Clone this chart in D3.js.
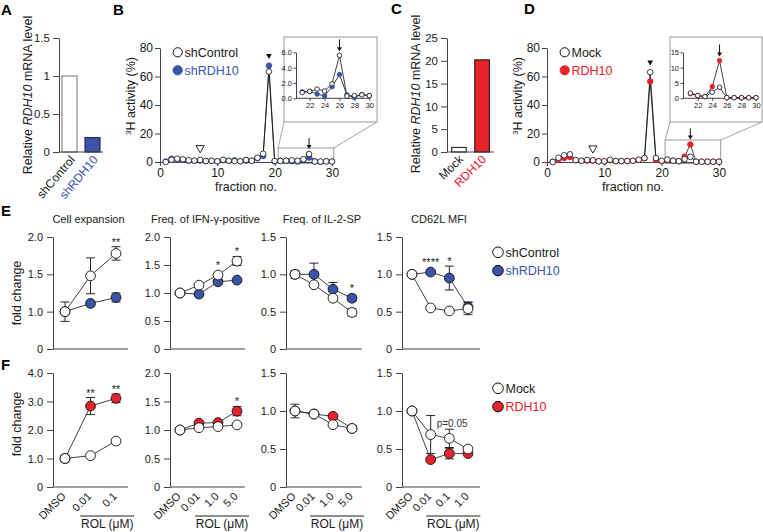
<!DOCTYPE html>
<html><head><meta charset="utf-8">
<script src="https://cdn.jsdelivr.net/npm/d3@7"></script>
<style>
body{margin:0;background:#fff;}
svg{display:block;}
</style></head><body>
<svg id="c" width="763" height="532"></svg>
<script>
// ---------------- DATA ----------------
const aCategories = ["shControl", "shRDH10"];
const aValues = [1.0, 0.19];
const aTicks = [0, 0.5, 1, 1.5];

const cCategories = ["Mock", "RDH10"];
const cValues = [1.0, 20.2];
const cTicks = [0, 5, 10, 15, 20, 25];

const fractions = [1,2,3,4,5,6,7,8,9,10,11,12,13,14,15,16,17,18,19,20,21,22,23,24,25,26,27,28,29,30];
const bControl = [0, 1.6, 2.3, 1.9, 1.2, 1.0, 1.4, 0.7, 0.9, 0.5, 1.6, 0.9, 0.7, 0.5, 1.4, 0.9, 3.0, 5.8, 63.4, 0.7, 0.75, 0.9, 1.2, 0.95, 1.9, 5.6, 0.3, 0.35, 0.45, 0.35];
const bRDH10   = [0.3, 2.3, 1.5, 1.5, 1.0, 0.8, 1.0, 0.6, 0.8, 0.4, 1.2, 0.8, 1.2, 0.5, 1.0, 0.8, 2.6, 4.2, 67.6, 0.4, 0.85, 0.9, 0.55, 0.3, 1.5, 3.1, 0.45, 0.1, 0.5, 0.35];
const dMock    = [0, 3.0, 4.7, 5.4, 1.4, 0.9, 1.4, 1.2, 0.5, 0.5, 1.6, 0.7, 0.7, 0.7, 0.9, 1.6, 2.8, 63.0, 2.8, 0.9, 1.7, 0.9, 0.55, 2.0, 3.6, 0.2, 0.2, 0.2, 0.2, 0.2];
const dRDH10   = [0.2, 1.9, 2.8, 3.5, 1.2, 0.8, 1.0, 1.0, 0.5, 0.4, 1.2, 0.6, 0.6, 0.6, 0.8, 1.4, 2.6, 56.5, 1.5, 0.5, 1.5, 0.9, 0.5, 3.8, 12.3, 0.2, 0.2, 0.2, 0.2, 0.2];
const fracXTicks = [0, 10, 20, 30];
const fracYTicks = [0, 20, 40, 60, 80];
const insetXTicks = [22, 24, 26, 28, 30];
const bInsetYTicks = [0, 2, 4, 6];
const dInsetYTicks = [0, 5, 10, 15];
// markers: [open triangle fraction, filled triangle fraction, arrow fraction]
const bMarks = [7, 19, 26];
const dMarks = [8, 18, 25];

const eTitles = ["Cell expansion", "Freq. of IFN-\u03b3-positive", "Freq. of IL-2-SP", "CD62L MFI"];
const dose3 = ["DMSO", "0.01", "0.1"];
const dose4a = ["DMSO", "0.01", "1.0", "5.0"];
const dose4b = ["DMSO", "0.01", "0.1", "1.0"];

// Row E: shControl vs shRDH10
const e1Ctrl = [1.0, 1.48, 1.78], e1CtrlErr = [0.13, 0.24, 0.09];
const e1Sh   = [1.0, 1.11, 1.19], e1ShErr   = [0, 0.03, 0.06];
const e2Ctrl = [1.0, 1.14, 1.32, 1.57], e2CtrlErr = [0, 0, 0, 0.08];
const e2Sh   = [1.0, 0.98, 1.20, 1.23], e2ShErr   = [0, 0, 0, 0];
const e3Ctrl = [1.0, 0.86, 0.68, 0.49], e3CtrlErr = [0.05, 0, 0, 0.05];
const e3Sh   = [1.0, 1.0, 0.80, 0.68], e3ShErr   = [0, 0.15, 0.09, 0.04];
const e4Ctrl = [1.0, 0.55, 0.51, 0.54], e4CtrlErr = [0, 0, 0, 0.08];
const e4Sh   = [1.0, 1.03, 0.95, 0.56], e4ShErr   = [0, 0, 0.16, 0.07];
const e1Ticks = [0.5, 1, 1.5, 2], e1TickLabels = ["0", "1.0", "1.5", "2.0"];
const e2Ticks = [0, 0.5, 1, 1.5, 2], e2TickLabels = ["0", "0.5", "1.0", "1.5", "2.0"];
const e34Ticks = [0, 0.5, 1, 1.5], e34TickLabels = ["0", "0.5", "1.0", "1.5"];
const e1Stars = [["0.1", "**"]];
const e2Stars = [["1.0", "*"], ["5.0", "*"]];
const e3Stars = [["5.0", "*"]];
const e4Stars = [["0.01", "****"], ["0.1", "*"]];

// Row F: Mock vs RDH10
const f1Mock = [1.0, 1.10, 1.61], f1MockErr = [0.12, 0, 0.05];
const f1Rdh  = [1.0, 2.84, 3.11], f1RdhErr  = [0, 0.30, 0.15];
const f2Mock = [1.0, 1.04, 1.06, 1.09], f2MockErr = [0, 0, 0, 0];
const f2Rdh  = [1.0, 1.12, 1.13, 1.33], f2RdhErr  = [0, 0, 0, 0.08];
const f3Mock = [1.0, 0.96, 0.82, 0.77], f3MockErr = [0.09, 0, 0, 0.04];
const f3Rdh  = [1.0, 0.96, 0.93, 0.77], f3RdhErr  = [0, 0, 0, 0];
const f4Mock = [1.0, 0.69, 0.64, 0.50], f4MockErr = [0, 0.25, 0.12, 0];
const f4Rdh  = [1.0, 0.36, 0.44, 0.44], f4RdhErr  = [0, 0, 0.07, 0];
const f1Ticks = [0, 1, 2, 3, 4], f1TickLabels = ["0", "1.0", "2.0", "3.0", "4.0"];
const f1Stars = [["0.01", "**"], ["0.1", "**"]];
const f2Stars = [["5.0", "*"]];
const f4Note = ["0.01", "0.1", "p=0.05"];

// ---------------- DRAW ----------------
const FONT = "'Liberation Sans', Arial, Helvetica, sans-serif";
const AX = "#444", INK = "#1a1a1a", BLUE = "#3a55a8", RED = "#e5232b", BLUE_T = "#3b55b5", RED_T = "#e8202a";
const svg = d3.select("#c").attr("font-family", FONT);
svg.append("rect").attr("width", 763).attr("height", 532).attr("fill", "#fff");

function styleAxis(sel, fs) {
  sel.attr("font-family", FONT).attr("font-size", fs);
  sel.selectAll("path.domain").attr("stroke", AX).attr("stroke-width", 1);
  sel.selectAll(".tick line").attr("stroke", AX).attr("stroke-width", 1);
  sel.selectAll(".tick text").attr("fill", INK);
}
function letter(t, x, y) {
  svg.append("text").attr("x", x).attr("y", y).attr("font-size", 15).attr("font-weight", "bold").attr("fill", "#000").text(t);
}
function line(g, x1, y1, x2, y2, col, w) {
  return g.append("line").attr("x1", x1).attr("y1", y1).attr("x2", x2).attr("y2", y2).attr("stroke", col).attr("stroke-width", w);
}

// ----- bar panels -----
function barPanel(o) {
  const g = svg.append("g");
  const x = d3.scaleBand().domain(o.cats).range([o.axisX, o.axisX + o.w]).paddingInner(o.pi).paddingOuter(o.po);
  const y = d3.scaleLinear().domain([0, o.ticks[o.ticks.length - 1]]).range([152, 38]);
  g.selectAll("rect.bar").data(o.cats).join("rect").attr("class", "bar")
    .attr("x", d => x(d)).attr("width", x.bandwidth())
    .attr("y", (d, i) => y(o.vals[i])).attr("height", (d, i) => y(0) - y(o.vals[i]))
    .attr("fill", (d, i) => o.fills[i]).attr("stroke", (d, i) => o.strokes[i]).attr("stroke-width", 1.2);
  const ya = g.append("g").attr("transform", `translate(${o.axisX},0)`)
    .call(d3.axisLeft(y).tickValues(o.ticks).tickFormat(d3.format("~g")).tickSize(6).tickSizeOuter(0).tickPadding(3));
  styleAxis(ya, 11.5);
  line(g, o.axisX, y(0), o.axisX + o.w, y(0), AX, 1);
  g.selectAll("text.xl").data(o.cats).join("text").attr("class", "xl")
    .attr("transform", d => `translate(${x(d) + x.bandwidth() / 2 + o.lx},${o.ly}) rotate(${o.rot})`)
    .attr("text-anchor", "end").attr("font-size", 12).attr("fill", (d, i) => o.labelCols[i]).text(d => d);
  const yl = g.append("text").attr("transform", `translate(${o.ylabX},${o.ylabY}) rotate(-90)`)
    .attr("text-anchor", "middle").attr("font-size", 12.5).attr("fill", INK);
  yl.append("tspan").text("Relative ");
  yl.append("tspan").attr("font-style", "italic").text("RDH10");
  yl.append("tspan").text(" mRNA level");
}
barPanel({cats: aCategories, vals: aValues, ticks: aTicks, axisX: 59, w: 44, pi: 0.35, po: 0.13,
  fills: ["#fff", BLUE], strokes: ["#888", "#2a2a4a"], labelCols: [INK, BLUE_T], lx: 6, ly: 160, rot: -50, ylabX: 31.5, ylabY: 95});
barPanel({cats: cCategories, vals: cValues, ticks: cTicks, axisX: 447, w: 47, pi: 0.37, po: 0.2,
  fills: ["#fff", RED], strokes: ["#333", "#3a1a1a"], labelCols: [INK, RED_T], lx: 5, ly: 160, rot: -45, ylabX: 420, ylabY: 94});
letter("A", 1, 15); letter("C", 391, 14);

// ----- fraction panels -----
function fracPanel(o) {
  const g = svg.append("g");
  const x = d3.scaleLinear().domain([0, 30]).range([o.x0, o.x0 + 172]);
  const y = d3.scaleLinear().domain([0, 80]).range([162, 48]);
  // zoom rect + connectors + inset box
  const rx0 = x(20.6), rx1 = x(30.3), ry0 = o.rectTop, ry1 = 163.5;
  g.append("rect").attr("x", rx0).attr("y", ry0).attr("width", rx1 - rx0).attr("height", ry1 - ry0)
    .attr("fill", "none").attr("stroke", "#9a9a9a").attr("stroke-width", 1);
  const [bx0, bx1, by0, by1] = o.box;
  line(g, rx0, ry0, bx0, by1, "#9a9a9a", 0.9);
  line(g, rx1, ry0, bx1, by1, "#9a9a9a", 0.9);
  g.append("rect").attr("x", bx0).attr("y", by0).attr("width", bx1 - bx0).attr("height", by1 - by0)
    .attr("fill", "#fff").attr("stroke", "#9a9a9a").attr("stroke-width", 1);
  // axes
  const xa = g.append("g").attr("transform", "translate(0,162)")
    .call(d3.axisBottom(x).tickValues(fracXTicks).tickSize(4).tickSizeOuter(0).tickPadding(2));
  styleAxis(xa, 12);
  const ya = g.append("g").attr("transform", `translate(${o.x0},0)`)
    .call(d3.axisLeft(y).tickValues(fracYTicks).tickSize(5).tickSizeOuter(0).tickPadding(2));
  styleAxis(ya, 12);
  g.append("text").attr("x", o.x0 + 86).attr("y", 191).attr("text-anchor", "middle").attr("font-size", 12.5).attr("fill", INK).text("fraction no.");
  const yl = g.append("text").attr("transform", `translate(${o.x0 - 25},96) rotate(-90)`).attr("text-anchor", "middle").attr("font-size", 12.5).attr("fill", INK);
  yl.append("tspan").attr("font-size", 8).attr("dy", -4.5).text("3");
  yl.append("tspan").attr("dy", 4.5).text("H activity (%)");
  // series
  const lineGen = d3.line().x(d => x(d[0])).y(d => y(d[1]));
  o.series.forEach(s => {
    g.append("path").datum(fractions.map((f, i) => [f, s.vals[i]])).attr("d", lineGen)
      .attr("fill", "none").attr("stroke", "#111").attr("stroke-width", 0.8);
  });
  o.series.forEach(s => {
    g.selectAll(null).data(fractions.map((f, i) => [f, s.vals[i]])).join("circle")
      .attr("cx", d => x(d[0])).attr("cy", d => y(d[1])).attr("r", 2.8)
      .attr("fill", s.fill).attr("stroke", s.stroke).attr("stroke-width", 0.8);
  });
  // markers
  const maxAt = f => d3.max(o.series, s => s.vals[fractions.indexOf(f)]);
  const [fOpen, fFill, fArrow] = o.marks;
  const tri = d3.symbol().type(d3.symbolTriangle);
  g.append("path").attr("d", tri.size(30)()).attr("transform", `translate(${x(fOpen)},${y(maxAt(fOpen)) - 12}) rotate(180)`)
    .attr("fill", "#fff").attr("stroke", "#111").attr("stroke-width", 0.9);
  g.append("path").attr("d", tri.size(14)()).attr("transform", `translate(${x(fFill)},${y(maxAt(fFill)) - 10}) rotate(180)`)
    .attr("fill", "#111");
  function arrow(ax, tipY) {
    line(g, ax, tipY - 11, ax, tipY - 2, "#111", 1);
    g.append("path").attr("d", `M${ax - 2.5},${tipY - 4}L${ax + 2.5},${tipY - 4}L${ax},${tipY}Z`).attr("fill", "#111");
  }
  arrow(x(fArrow), y(maxAt(fArrow)) - 5);
  // legend
  o.series.slice().sort((a, b) => a.legendOrder - b.legendOrder).forEach((s, i) => {
    const cy = 52.3 + i * 18;
    g.append("circle").attr("cx", o.x0 + 17.7).attr("cy", cy).attr("r", 4.6).attr("fill", s.fill)
      .attr("stroke", s.stroke).attr("stroke-width", 1);
    g.append("text").attr("x", o.x0 + 24.5).attr("y", cy + 4.6).attr("font-size", 12.5).attr("fill", s.textCol).text(s.name);
  });
  // inset
  const xi = d3.scaleLinear().domain([21, 30]).range(o.insetX);
  const yi = d3.scaleLinear().domain([0, o.insetTicks[o.insetTicks.length - 1]]).range([98.3, 52.3]);
  const iax = o.insetAxisX;
  const xia = g.append("g").attr("transform", "translate(0,98.3)")
    .call(d3.axisBottom(xi).tickValues(insetXTicks).tickSize(2.5).tickSizeOuter(0).tickPadding(1.5));
  styleAxis(xia, 7.5);
  xia.select("path.domain").attr("d", `M${iax},0H${xi(30) + 1}`);
  const yia = g.append("g").attr("transform", `translate(${iax},0)`)
    .call(d3.axisLeft(yi).tickValues(o.insetTicks).tickSize(2.5).tickSizeOuter(0).tickPadding(1.5));
  styleAxis(yia, 7.5);
  const lineI = d3.line().x(d => xi(d[0])).y(d => yi(d[1]));
  const sub = s => fractions.map((f, i) => [f, s.vals[i]]).filter(d => d[0] >= 21);
  o.series.forEach(s => {
    g.append("path").datum(sub(s)).attr("d", lineI).attr("fill", "none").attr("stroke", "#111").attr("stroke-width", 0.8);
  });
  o.series.forEach(s => {
    g.selectAll(null).data(sub(s)).join("circle").attr("cx", d => xi(d[0])).attr("cy", d => yi(d[1])).attr("r", 2.3)
      .attr("fill", s.fill).attr("stroke", s.stroke).attr("stroke-width", 0.8);
  });
  const ia = xi(fArrow), itip = yi(maxAt(fArrow)) - 4;
  line(g, ia, itip - 12, ia, itip - 2, "#111", 1);
  g.append("path").attr("d", `M${ia - 2.5},${itip - 4}L${ia + 2.5},${itip - 4}L${ia},${itip}Z`).attr("fill", "#111");
}
fracPanel({x0: 160, rectTop: 148, box: [284, 377, 37, 122], insetX: [302.2, 369.3], insetAxisX: 296, insetTicks: bInsetYTicks, marks: bMarks,
  series: [
    {name: "shRDH10", vals: bRDH10, fill: BLUE, stroke: BLUE, textCol: BLUE_T, legendOrder: 1},
    {name: "shControl", vals: bControl, fill: "#fff", stroke: "#111", textCol: INK, legendOrder: 0}
  ]});
fracPanel({x0: 547, rectTop: 140, box: [670, 762, 37, 122], insetX: [690.4, 756.0], insetAxisX: 683, insetTicks: dInsetYTicks, marks: dMarks,
  series: [
    {name: "RDH10", vals: dRDH10, fill: RED, stroke: RED, textCol: RED_T, legendOrder: 1},
    {name: "Mock", vals: dMock, fill: "#fff", stroke: "#111", textCol: INK, legendOrder: 0}
  ]});
letter("B", 113, 15); letter("D", 524, 14);

// ----- dose panels -----
function dosePanel(o) {
  const g = svg.append("g");
  const y = d3.scaleLinear().domain(o.yDomain).range(o.yRange);
  const x = d3.scalePoint().domain(o.cats).range(o.xRange);
  const ya = g.append("g").attr("transform", `translate(${o.axisX},0)`)
    .call(d3.axisLeft(y).tickValues(o.ticks).tickFormat((d, i) => o.tickLabels[i]).tickSize(6).tickSizeOuter(0).tickPadding(4));
  styleAxis(ya, 11);
  line(g, o.axisX, o.yRange[0], o.xEnd, o.yRange[0], AX, 1);
  const pts = s => o.cats.map((c, i) => ({c, v: s.vals[i], e: s.errs[i]}));
  const lg = d3.line().x(d => x(d.c)).y(d => y(d.v));
  o.series.forEach(s => g.append("path").datum(pts(s)).attr("d", lg).attr("fill", "none").attr("stroke", "#111").attr("stroke-width", 0.8));
  o.series.forEach(s => {
    pts(s).filter(d => d.e > 0).forEach(d => {
      const cx = x(d.c), t = y(d.v + d.e), b = y(d.v - d.e);
      line(g, cx, t, cx, b, "#111", 0.9);
      line(g, cx - 4.5, t, cx + 4.5, t, "#111", 0.9);
      line(g, cx - 4.5, b, cx + 4.5, b, "#111", 0.9);
    });
  });
  o.series.forEach(s => {
    g.selectAll(null).data(pts(s)).join("circle").attr("cx", d => x(d.c)).attr("cy", d => y(d.v)).attr("r", 4.9)
      .attr("fill", s.fill).attr("stroke", "#111").attr("stroke-width", 0.9);
  });
  const topAt = c => d3.min(o.series, s => {
    const i = o.cats.indexOf(c);
    return Math.min(y(s.vals[i] + s.errs[i]), y(s.vals[i]) - 4.8);
  });
  (o.stars || []).forEach(([c, t]) => {
    g.append("text").attr("x", x(c)).attr("y", topAt(c) - 1).attr("text-anchor", "middle").attr("font-size", 11).attr("fill", INK).text(t);
  });
  if (o.note) {
    g.append("text").attr("x", x(o.note[0]) + 6).attr("y", topAt(o.note[1]) - 2).attr("font-size", 10).attr("fill", "#333").text(o.note[2]);
  }
  if (o.title) {
    g.append("text").attr("x", (o.axisX + o.xEnd) / 2 - 2).attr("y", 223).attr("text-anchor", "middle").attr("font-size", 11).attr("fill", INK).text(o.title);
  }
  if (o.xLabels) {
    g.selectAll("text.xl").data(o.cats).join("text").attr("class", "xl")
      .attr("transform", d => `translate(${x(d) + 1.5},${o.yRange[0] + 10}) rotate(-45)`)
      .attr("text-anchor", "end").attr("font-size", 11).attr("fill", INK).text(d => d);
    const rol = o.cats.slice(1);
    const mid = (x(rol[0]) + x(rol[rol.length - 1])) / 2 + 4;
    line(g, mid - 27, 516, mid + 27, 516, "#222", 1);
    g.append("text").attr("x", mid).attr("y", 528).attr("text-anchor", "middle").attr("font-size", 12).attr("fill", INK).text("ROL (\u03bcM)");
  }
}
const sh = (vals, errs) => ({vals, errs, fill: BLUE});
const rd = (vals, errs) => ({vals, errs, fill: RED});
const wh = (vals, errs) => ({vals, errs, fill: "#fff"});
const cols = [
  {axisX: 53, xRange: [65, 116], xEnd: 128},
  {axisX: 170, xRange: [180, 237], xEnd: 245},
  {axisX: 286, xRange: [295, 352], xEnd: 362},
  {axisX: 402, xRange: [412, 468], xEnd: 480}
];
// Row E
dosePanel({...cols[0], cats: dose3, yDomain: [0.5, 2], yRange: [349, 237], ticks: e1Ticks, tickLabels: e1TickLabels, title: eTitles[0], stars: e1Stars,
  series: [sh(e1Sh, e1ShErr), wh(e1Ctrl, e1CtrlErr)]});
dosePanel({...cols[1], cats: dose4a, yDomain: [0, 2], yRange: [349, 237], ticks: e2Ticks, tickLabels: e2TickLabels, title: eTitles[1], stars: e2Stars,
  series: [sh(e2Sh, e2ShErr), wh(e2Ctrl, e2CtrlErr)]});
dosePanel({...cols[2], cats: dose4a, yDomain: [0, 1.5], yRange: [349, 237], ticks: e34Ticks, tickLabels: e34TickLabels, title: eTitles[2], stars: e3Stars,
  series: [sh(e3Sh, e3ShErr), wh(e3Ctrl, e3CtrlErr)]});
dosePanel({...cols[3], cats: dose4b, yDomain: [0, 1.5], yRange: [349, 237], ticks: e34Ticks, tickLabels: e34TickLabels, title: eTitles[3], stars: e4Stars,
  series: [sh(e4Sh, e4ShErr), wh(e4Ctrl, e4CtrlErr)]});
// Row F
dosePanel({...cols[0], cats: dose3, yDomain: [0, 4], yRange: [487, 373], ticks: f1Ticks, tickLabels: f1TickLabels, stars: f1Stars, xLabels: true,
  series: [rd(f1Rdh, f1RdhErr), wh(f1Mock, f1MockErr)]});
dosePanel({...cols[1], cats: dose4a, yDomain: [0, 2], yRange: [487, 373], ticks: e2Ticks, tickLabels: e2TickLabels, stars: f2Stars, xLabels: true,
  series: [rd(f2Rdh, f2RdhErr), wh(f2Mock, f2MockErr)]});
dosePanel({...cols[2], cats: dose4a, yDomain: [0, 1.5], yRange: [487, 373], ticks: e34Ticks, tickLabels: e34TickLabels, xLabels: true,
  series: [rd(f3Rdh, f3RdhErr), wh(f3Mock, f3MockErr)]});
dosePanel({...cols[3], cats: dose4b, yDomain: [0, 1.5], yRange: [487, 373], ticks: e34Ticks, tickLabels: e34TickLabels, xLabels: true, note: f4Note,
  series: [rd(f4Rdh, f4RdhErr), wh(f4Mock, f4MockErr)]});

// fold change labels
[[293], [424]].forEach(([cy]) => {
  svg.append("text").attr("transform", `translate(21,${cy}) rotate(-90)`).attr("text-anchor", "middle").attr("font-size", 12.5).attr("fill", INK).text("fold change");
});
// E/F legends
function doseLegend(y0, items) {
  items.forEach((it, i) => {
    const cy = y0 + i * 18.3;
    svg.append("circle").attr("cx", 498).attr("cy", cy).attr("r", 5.3).attr("fill", it[1]).attr("stroke", "#111").attr("stroke-width", 1);
    svg.append("text").attr("x", 505.5).attr("y", cy + 4.5).attr("font-size", 12.5).attr("fill", it[2]).text(it[0]);
  });
}
doseLegend(252.3, [["shControl", "#fff", INK], ["shRDH10", BLUE, BLUE_T]]);
doseLegend(388.3, [["Mock", "#fff", INK], ["RDH10", RED, RED_T]]);
letter("E", 1, 216); letter("F", 1, 370);
</script>
</body></html>
